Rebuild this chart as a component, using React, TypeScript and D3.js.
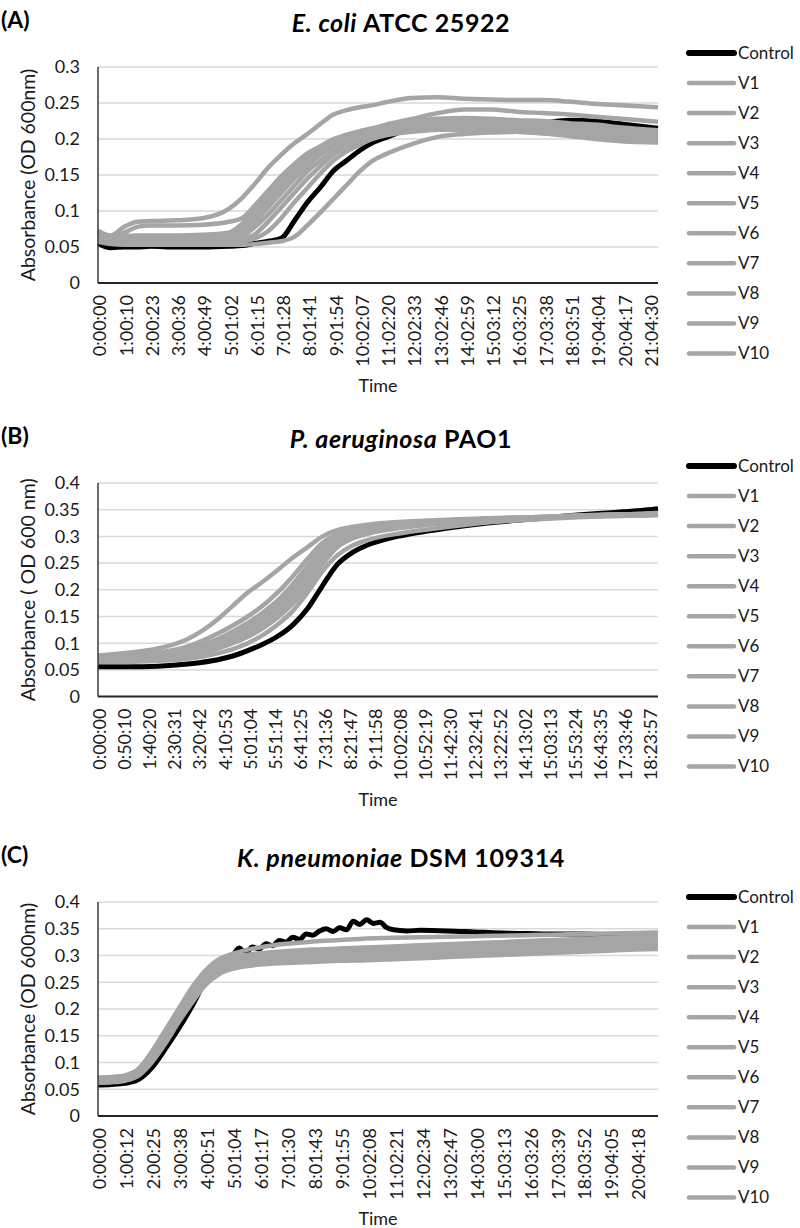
import { useEffect, useRef } from "react";
import * as d3 from "d3";

const seriesNames = ["Control", "V1", "V2", "V3", "V4", "V5", "V6", "V7", "V8", "V9", "V10"];

// ---- (A) E. coli ATCC 25922 ----
const ticksA = [
    "0:00:00", "1:00:10", "2:00:23", "3:00:36", "4:00:49", "5:01:02", "6:01:15", "7:01:28",
    "8:01:41", "9:01:54", "10:02:07", "11:02:20", "12:02:33", "13:02:46", "14:02:59", "15:03:12",
    "16:03:25", "17:03:38", "18:03:51", "19:04:04", "20:04:17", "21:04:30",
];
const hoursA = [0, 0.5, 1, 1.5, 2, 3, 4, 5, 5.5, 6, 6.5, 7, 7.5, 8, 8.5, 9, 9.5, 10, 10.5, 11, 12, 13, 14, 15, 16, 17, 18, 19, 20, 21.4];
const controlA = [0.055, 0.049, 0.05, 0.05, 0.051, 0.05, 0.05, 0.051, 0.052, 0.055, 0.058, 0.062, 0.086, 0.112, 0.133, 0.156, 0.17, 0.184, 0.195, 0.202, 0.215, 0.222, 0.222, 0.22, 0.218, 0.222, 0.226, 0.225, 0.221, 0.215];
const variantsA = [
    [0.072, 0.066, 0.078, 0.085, 0.086, 0.087, 0.09, 0.103, 0.118, 0.138, 0.16, 0.178, 0.194, 0.207, 0.221, 0.234, 0.24, 0.244, 0.247, 0.251, 0.257, 0.258, 0.256, 0.255, 0.254, 0.254, 0.252, 0.249, 0.247, 0.244],
    [0.07, 0.065, 0.07, 0.078, 0.08, 0.08, 0.081, 0.085, 0.09, 0.108, 0.128, 0.148, 0.165, 0.18, 0.19, 0.2, 0.206, 0.211, 0.215, 0.22, 0.228, 0.236, 0.241, 0.241, 0.238, 0.236, 0.234, 0.231, 0.228, 0.224],
    [0.066, 0.062, 0.063, 0.063, 0.063, 0.063, 0.063, 0.064, 0.072, 0.09, 0.11, 0.13, 0.15, 0.168, 0.182, 0.192, 0.2, 0.205, 0.21, 0.215, 0.222, 0.226, 0.225, 0.223, 0.222, 0.222, 0.22, 0.218, 0.213, 0.208],
    [0.073, 0.064, 0.065, 0.065, 0.065, 0.064, 0.064, 0.065, 0.069, 0.085, 0.105, 0.125, 0.145, 0.162, 0.178, 0.19, 0.198, 0.204, 0.208, 0.212, 0.218, 0.22, 0.218, 0.217, 0.215, 0.215, 0.213, 0.21, 0.205, 0.2],
    [0.062, 0.06, 0.06, 0.06, 0.06, 0.06, 0.06, 0.061, 0.065, 0.078, 0.095, 0.115, 0.135, 0.155, 0.17, 0.183, 0.193, 0.2, 0.205, 0.21, 0.215, 0.217, 0.216, 0.215, 0.213, 0.212, 0.21, 0.207, 0.203, 0.198],
    [0.068, 0.063, 0.065, 0.066, 0.066, 0.066, 0.067, 0.07, 0.082, 0.1, 0.12, 0.14, 0.158, 0.175, 0.188, 0.197, 0.204, 0.21, 0.214, 0.218, 0.224, 0.228, 0.229, 0.228, 0.226, 0.225, 0.222, 0.22, 0.216, 0.212],
    [0.06, 0.058, 0.058, 0.058, 0.058, 0.058, 0.058, 0.058, 0.061, 0.068, 0.085, 0.105, 0.125, 0.145, 0.162, 0.178, 0.19, 0.197, 0.203, 0.207, 0.212, 0.215, 0.215, 0.214, 0.212, 0.21, 0.208, 0.205, 0.2, 0.196],
    [0.064, 0.061, 0.062, 0.062, 0.062, 0.062, 0.063, 0.066, 0.075, 0.092, 0.112, 0.133, 0.152, 0.17, 0.184, 0.195, 0.202, 0.207, 0.212, 0.216, 0.22, 0.222, 0.221, 0.22, 0.219, 0.219, 0.217, 0.215, 0.21, 0.205],
    [0.058, 0.054, 0.053, 0.053, 0.053, 0.053, 0.053, 0.053, 0.053, 0.054, 0.056, 0.058, 0.064, 0.08, 0.098, 0.117, 0.136, 0.155, 0.17, 0.179, 0.193, 0.203, 0.207, 0.209, 0.21, 0.208, 0.204, 0.2, 0.197, 0.195],
    [0.057, 0.056, 0.056, 0.056, 0.056, 0.056, 0.056, 0.057, 0.058, 0.062, 0.072, 0.09, 0.112, 0.132, 0.152, 0.17, 0.183, 0.192, 0.2, 0.205, 0.21, 0.213, 0.213, 0.212, 0.21, 0.208, 0.206, 0.203, 0.2, 0.197],
];

// ---- (B) P. aeruginosa PAO1 ----
const ticksB = [
    "0:00:00", "0:50:10", "1:40:20", "2:30:31", "3:20:42", "4:10:53", "5:01:04", "5:51:14",
    "6:41:25", "7:31:36", "8:21:47", "9:11:58", "10:02:08", "10:52:19", "11:42:30", "12:32:41",
    "13:22:52", "14:13:02", "15:03:13", "15:53:24", "16:43:35", "17:33:46", "18:23:57",
];
const hoursB = [0, 1, 2, 3, 4, 4.5, 5, 5.5, 6, 6.5, 7, 7.5, 8, 8.5, 9, 9.5, 10, 11, 12, 13, 14, 15, 16, 17, 18, 18.7];
const controlB = [0.056, 0.056, 0.057, 0.061, 0.069, 0.076, 0.086, 0.098, 0.113, 0.134, 0.165, 0.208, 0.248, 0.27, 0.284, 0.293, 0.3, 0.31, 0.318, 0.325, 0.33, 0.335, 0.34, 0.344, 0.348, 0.352];
const variantsB = [
    [0.075, 0.077, 0.082, 0.094, 0.118, 0.133, 0.15, 0.17, 0.195, 0.225, 0.258, 0.288, 0.304, 0.312, 0.317, 0.32, 0.323, 0.327, 0.33, 0.333, 0.335, 0.337, 0.338, 0.339, 0.34, 0.341],
    [0.072, 0.074, 0.078, 0.088, 0.108, 0.122, 0.138, 0.157, 0.18, 0.21, 0.245, 0.28, 0.3, 0.309, 0.314, 0.318, 0.321, 0.326, 0.33, 0.333, 0.335, 0.337, 0.339, 0.34, 0.341, 0.343],
    [0.077, 0.082, 0.09, 0.108, 0.145, 0.17, 0.195, 0.215, 0.237, 0.26, 0.28, 0.3, 0.312, 0.318, 0.322, 0.325, 0.327, 0.33, 0.332, 0.334, 0.335, 0.336, 0.337, 0.338, 0.339, 0.34],
    [0.07, 0.071, 0.075, 0.084, 0.102, 0.115, 0.13, 0.148, 0.17, 0.198, 0.232, 0.27, 0.295, 0.306, 0.312, 0.316, 0.319, 0.324, 0.328, 0.332, 0.334, 0.336, 0.338, 0.34, 0.341, 0.342],
    [0.068, 0.069, 0.072, 0.079, 0.095, 0.106, 0.12, 0.137, 0.158, 0.185, 0.218, 0.258, 0.287, 0.3, 0.308, 0.313, 0.317, 0.323, 0.328, 0.331, 0.334, 0.336, 0.338, 0.339, 0.34, 0.341],
    [0.071, 0.073, 0.077, 0.087, 0.106, 0.12, 0.136, 0.155, 0.178, 0.207, 0.242, 0.279, 0.3, 0.31, 0.315, 0.318, 0.321, 0.326, 0.33, 0.333, 0.335, 0.337, 0.339, 0.341, 0.342, 0.344],
    [0.066, 0.067, 0.07, 0.076, 0.09, 0.1, 0.112, 0.128, 0.148, 0.174, 0.207, 0.248, 0.28, 0.296, 0.305, 0.311, 0.315, 0.322, 0.327, 0.331, 0.334, 0.336, 0.338, 0.34, 0.342, 0.344],
    [0.069, 0.07, 0.074, 0.082, 0.099, 0.111, 0.125, 0.143, 0.165, 0.193, 0.227, 0.266, 0.292, 0.304, 0.311, 0.315, 0.318, 0.324, 0.329, 0.332, 0.334, 0.336, 0.337, 0.338, 0.339, 0.34],
    [0.067, 0.068, 0.071, 0.078, 0.093, 0.103, 0.116, 0.132, 0.153, 0.18, 0.213, 0.253, 0.284, 0.298, 0.306, 0.312, 0.316, 0.322, 0.327, 0.33, 0.333, 0.335, 0.337, 0.339, 0.341, 0.343],
    [0.065, 0.065, 0.067, 0.071, 0.081, 0.089, 0.1, 0.115, 0.135, 0.16, 0.195, 0.235, 0.265, 0.283, 0.293, 0.3, 0.305, 0.313, 0.32, 0.326, 0.33, 0.333, 0.336, 0.338, 0.34, 0.342],
];

// ---- (C) K. pneumoniae DSM 109314 ----
const ticksC = [
    "0:00:00", "1:00:12", "2:00:25", "3:00:38", "4:00:51", "5:01:04", "6:01:17", "7:01:30",
    "8:01:43", "9:01:55", "10:02:08", "11:02:21", "12:02:34", "13:02:47", "14:03:00", "15:03:13",
    "16:03:26", "17:03:39", "18:03:52", "19:04:05", "20:04:18",
];
const hoursC = [0, 0.5, 1, 1.5, 2, 2.5, 3, 3.5, 4, 4.5, 5, 5.5, 6, 7, 8, 9, 10, 11, 12, 13, 14, 15, 16, 17, 18, 19, 20, 20.85];
// control readings are noisier, so they are kept at a finer step
const hoursControlC = [0, 0.5, 1, 1.5, 2, 2.5, 3, 3.5, 4, 4.5, 5, 5.25, 5.5, 5.75, 6, 6.25, 6.5, 6.75, 7, 7.25, 7.5, 7.75, 8, 8.25, 8.5, 8.75, 9, 9.25, 9.5, 9.75, 10, 10.25, 10.5, 10.75, 11, 11.5, 12, 13, 14, 15, 16, 17, 18, 19, 20, 20.85];
const controlC = [0.058, 0.059, 0.061, 0.068, 0.09, 0.125, 0.163, 0.205, 0.252, 0.28, 0.298, 0.314, 0.305, 0.316, 0.312, 0.322, 0.318, 0.328, 0.325, 0.334, 0.33, 0.34, 0.338, 0.346, 0.35, 0.345, 0.352, 0.348, 0.364, 0.358, 0.367, 0.36, 0.362, 0.352, 0.348, 0.346, 0.347, 0.346, 0.344, 0.342, 0.341, 0.34, 0.34, 0.339, 0.338, 0.338];
const variantsC = [
    [0.072, 0.073, 0.076, 0.088, 0.12, 0.16, 0.2, 0.24, 0.272, 0.293, 0.303, 0.31, 0.315, 0.322, 0.326, 0.329, 0.332, 0.333, 0.334, 0.335, 0.336, 0.337, 0.338, 0.339, 0.34, 0.341, 0.342, 0.343],
    [0.068, 0.069, 0.072, 0.083, 0.113, 0.152, 0.192, 0.232, 0.265, 0.285, 0.295, 0.3, 0.303, 0.307, 0.31, 0.312, 0.314, 0.316, 0.318, 0.32, 0.322, 0.324, 0.326, 0.328, 0.33, 0.332, 0.334, 0.335],
    [0.066, 0.067, 0.07, 0.08, 0.108, 0.146, 0.186, 0.225, 0.258, 0.278, 0.288, 0.293, 0.296, 0.3, 0.303, 0.305, 0.307, 0.309, 0.311, 0.314, 0.316, 0.318, 0.321, 0.323, 0.326, 0.328, 0.331, 0.333],
    [0.07, 0.071, 0.074, 0.086, 0.118, 0.158, 0.197, 0.236, 0.268, 0.287, 0.296, 0.301, 0.304, 0.308, 0.311, 0.313, 0.315, 0.317, 0.319, 0.321, 0.323, 0.325, 0.327, 0.329, 0.331, 0.333, 0.335, 0.336],
    [0.064, 0.065, 0.068, 0.078, 0.105, 0.142, 0.182, 0.22, 0.253, 0.273, 0.283, 0.288, 0.291, 0.294, 0.296, 0.298, 0.3, 0.302, 0.304, 0.306, 0.308, 0.31, 0.312, 0.314, 0.316, 0.318, 0.32, 0.322],
    [0.067, 0.068, 0.071, 0.082, 0.11, 0.148, 0.188, 0.228, 0.26, 0.28, 0.29, 0.295, 0.298, 0.302, 0.305, 0.307, 0.309, 0.311, 0.313, 0.315, 0.317, 0.32, 0.322, 0.325, 0.327, 0.33, 0.332, 0.334],
    [0.065, 0.066, 0.069, 0.079, 0.106, 0.144, 0.184, 0.222, 0.255, 0.276, 0.286, 0.291, 0.294, 0.297, 0.3, 0.302, 0.304, 0.306, 0.308, 0.311, 0.313, 0.315, 0.317, 0.32, 0.322, 0.324, 0.327, 0.329],
    [0.069, 0.07, 0.073, 0.085, 0.116, 0.155, 0.195, 0.234, 0.266, 0.285, 0.294, 0.298, 0.301, 0.305, 0.308, 0.31, 0.312, 0.314, 0.316, 0.318, 0.32, 0.322, 0.324, 0.326, 0.328, 0.33, 0.332, 0.334],
    [0.063, 0.064, 0.067, 0.077, 0.103, 0.14, 0.18, 0.218, 0.25, 0.27, 0.28, 0.285, 0.288, 0.291, 0.293, 0.295, 0.297, 0.299, 0.301, 0.303, 0.305, 0.307, 0.309, 0.311, 0.313, 0.315, 0.317, 0.319],
    [0.062, 0.063, 0.066, 0.075, 0.1, 0.135, 0.175, 0.212, 0.245, 0.265, 0.275, 0.28, 0.283, 0.286, 0.288, 0.29, 0.291, 0.293, 0.295, 0.297, 0.299, 0.301, 0.303, 0.305, 0.307, 0.309, 0.311, 0.312],
];

const FONT = "Lato, 'Open Sans', sans-serif";
const GREY = "#a5a5a5";
const PLOT_LEFT = 98;
const PLOT_RIGHT = 658;

interface PanelSpec {
    letter: string;
    italic: string;
    rest: string;
    yLabel: string;
    yMax: number;
    top: number;
    bottom: number;
    xEnd: number;
    ticks: string[];
    hours: number[];
    control: number[];
    controlHours: number[];
    variants: number[][];
    legendTop: number;
}

const panels: PanelSpec[] = [
    {
        letter: "(A)", italic: "E. coli", rest: " ATCC 25922", yLabel: "Absorbance (OD 600nm)",
        yMax: 0.3, top: 67, bottom: 283, xEnd: 21.4, ticks: ticksA,
        hours: hoursA, control: controlA, controlHours: hoursA, variants: variantsA, legendTop: 53,
    },
    {
        letter: "(B)", italic: "P. aeruginosa", rest: " PAO1", yLabel: "Absorbance ( OD 600 nm)",
        yMax: 0.4, top: 483, bottom: 696.6, xEnd: 18.7, ticks: ticksB,
        hours: hoursB, control: controlB, controlHours: hoursB, variants: variantsB, legendTop: 466,
    },
    {
        letter: "(C)", italic: "K. pneumoniae", rest: " DSM 109314", yLabel: "Absorbance (OD 600nm)",
        yMax: 0.4, top: 902, bottom: 1116, xEnd: 20.85, ticks: ticksC,
        hours: hoursC, control: controlC, controlHours: hoursControlC, variants: variantsC, legendTop: 897,
    },
];

// "h:mm:ss" -> hours
function toHours(label: string) {
    const [h, m, s] = label.split(":").map(Number);
    return h + m / 60 + s / 3600;
}

function GrowthPanel({ spec }: { spec: PanelSpec }) {
    const gRef = useRef<SVGGElement>(null);

    useEffect(() => {
        if (!gRef.current) return;
        const g = d3.select(gRef.current);
        g.selectAll("*").remove();

        const x = d3.scaleLinear().domain([0, spec.xEnd]).range([PLOT_LEFT, PLOT_RIGHT]);
        const y = d3.scaleLinear().domain([0, spec.yMax]).range([spec.bottom, spec.top]);
        const yTicks = d3.range(0, Math.round(spec.yMax / 0.05) + 1).map((i) => +(i * 0.05).toFixed(2));

        // panel letter and title
        g.append("text")
            .attr("x", 1).attr("y", spec.top - 39)
            .attr("font-size", 23).attr("font-weight", "bold")
            .text(spec.letter);
        const title = g.append("text")
            .attr("x", 401).attr("y", spec.top - 35)
            .attr("text-anchor", "middle")
            .attr("font-size", 25).attr("font-weight", "bold")
            .attr("letter-spacing", 0.6);
        title.append("tspan").attr("font-style", "italic").text(spec.italic);
        title.append("tspan").text(spec.rest);

        // horizontal gridlines
        g.selectAll(".grid")
            .data(yTicks.slice(1))
            .join("line")
            .attr("x1", PLOT_LEFT).attr("x2", PLOT_RIGHT)
            .attr("y1", (d) => y(d)).attr("y2", (d) => y(d))
            .attr("stroke", "#d9d9d9").attr("stroke-width", 1.5);

        // y tick labels
        g.selectAll(".ytick")
            .data(yTicks)
            .join("text")
            .attr("x", 80).attr("y", (d) => y(d))
            .attr("dy", "0.35em").attr("text-anchor", "end")
            .attr("font-size", 18).attr("fill", "#1a1a1a")
            .text((d) => String(d));

        // x tick labels, rotated
        g.selectAll(".xtick")
            .data(spec.ticks)
            .join("text")
            .attr("transform", (d) => `translate(${x(toHours(d)) + 2},${spec.bottom + 12}) rotate(-90)`)
            .attr("dy", "0.35em").attr("text-anchor", "end")
            .attr("font-size", 18).attr("fill", "#1a1a1a")
            .text((d) => d);

        const line = d3
            .line<number>()
            .curve(d3.curveMonotoneX);

        // control first, variants drawn over it
        g.append("path")
            .attr("d", line.x((_, i) => x(spec.controlHours[i])).y((d) => y(d))(spec.control))
            .attr("fill", "none").attr("stroke", "#000").attr("stroke-width", 5)
            .attr("stroke-linejoin", "round");

        g.selectAll(".variant")
            .data(spec.variants)
            .join("path")
            .attr("d", (vals) => line.x((_, i) => x(spec.hours[i])).y((d) => y(d))(vals))
            .attr("fill", "none").attr("stroke", GREY).attr("stroke-width", 4.5)
            .attr("stroke-linejoin", "round");

        // axes lines
        g.append("line")
            .attr("x1", PLOT_LEFT).attr("x2", PLOT_LEFT)
            .attr("y1", spec.top).attr("y2", spec.bottom)
            .attr("stroke", "#3a3a3a").attr("stroke-width", 1.5);
        g.append("line")
            .attr("x1", PLOT_LEFT).attr("x2", PLOT_RIGHT)
            .attr("y1", spec.bottom).attr("y2", spec.bottom)
            .attr("stroke", "#262626").attr("stroke-width", 2);

        // axis titles
        g.append("text")
            .attr("transform", `translate(28,${(spec.top + spec.bottom) / 2}) rotate(-90)`)
            .attr("text-anchor", "middle").attr("dy", "0.35em")
            .attr("font-size", 19.5).attr("fill", "#1a1a1a")
            .text(spec.yLabel);
        g.append("text")
            .attr("x", (PLOT_LEFT + PLOT_RIGHT) / 2).attr("y", spec.bottom + 103)
            .attr("text-anchor", "middle").attr("dy", "0.35em")
            .attr("font-size", 18).attr("fill", "#1a1a1a")
            .text("Time");

        // legend
        const items = g.selectAll(".legend")
            .data(seriesNames)
            .join("g")
            .attr("transform", (_, i) => `translate(0,${spec.legendTop + i * 30.05})`);
        items.append("line")
            .attr("x1", 689).attr("x2", 734)
            .attr("stroke", (_, i) => (i === 0 ? "#000" : GREY))
            .attr("stroke-width", (_, i) => (i === 0 ? 6 : 4.5))
            .attr("stroke-linecap", "round");
        items.append("text")
            .attr("x", 738).attr("dy", "0.35em")
            .attr("font-size", 17).attr("fill", "#1a1a1a")
            .text((d) => d);
    }, [spec]);

    return <g ref={gRef} />;
}

export default function App() {
    return (
        <div style={{ position: "absolute", left: 0, top: 0 }}>
            <svg width={800} height={1228} viewBox="0 0 800 1228" style={{ display: "block", background: "#fff", fontFamily: FONT }}>
                {panels.map((p) => (
                    <GrowthPanel key={p.letter} spec={p} />
                ))}
            </svg>
        </div>
    );
}
